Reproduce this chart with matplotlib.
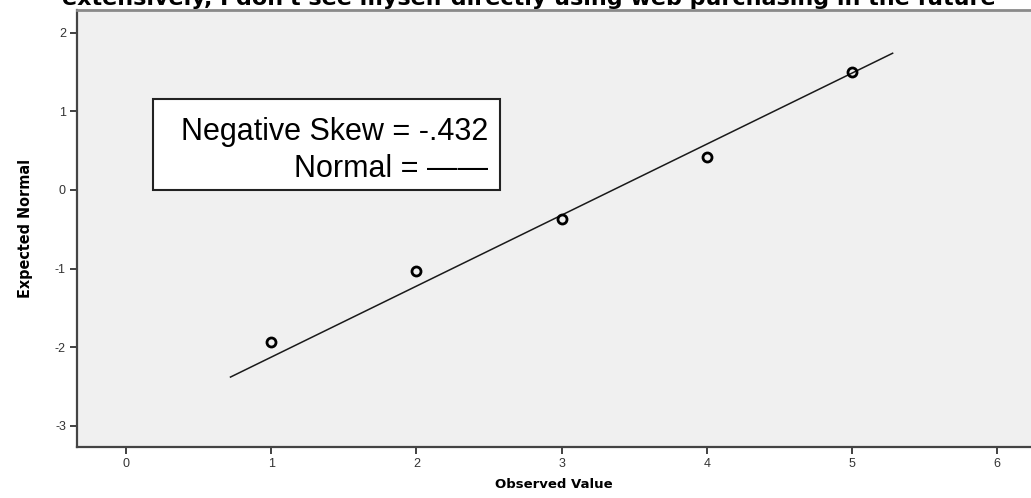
import matplotlib
matplotlib.use("Agg")
import matplotlib.pyplot as plt

# observed category values vs. expected normal scores
observed = [1, 2, 3, 4, 5]
expected = [-1.93, -1.03, -0.37, 0.42, 1.50]

# reference normal line (end points)
line_x = [0.72, 5.28]
line_y = [-2.38, 1.74]

x_ticks = [0, 1, 2, 3, 4, 5, 6]
y_ticks = [2, 1, 0, -1, -2, -3]

title = "extensively, I don't see myself directly using web purchasing in the future"

plt.rcParams['axes.unicode_minus'] = False

fig = plt.figure(figsize=(10.31, 4.98), dpi=100)
fig.patch.set_facecolor('white')
ax = fig.add_axes([0.0747, 0.1024, 0.9253, 0.8775])
ax.set_facecolor('#f0f0f0')

ax.plot(line_x, line_y, color='#1a1a1a', lw=1.1, zorder=2)
ax.plot(observed, expected, linestyle='none', marker='o', ms=6.5,
        mfc='none', mec='black', mew=2.0, zorder=3)

ax.set_xlim(-0.337, 6.233)
ax.set_ylim(-3.27, 2.29)
ax.set_xticks(x_ticks)
ax.set_yticks(y_ticks)

# spines
ax.spines['right'].set_visible(False)
ax.spines['top'].set_color('#8a8a8a')
ax.spines['top'].set_linewidth(2.0)
for s in ['left', 'bottom']:
    ax.spines[s].set_color('#444444')
    ax.spines[s].set_linewidth(1.6)

ax.tick_params(direction='out', length=5, width=1.3, color='#333333',
               labelsize=9, labelcolor='#333333', pad=3)
for lab in ax.get_xticklabels() + ax.get_yticklabels():
    lab.set_family(['Liberation Sans', 'DejaVu Sans'])

ax.set_xlabel("Observed Value", fontsize=9.5, fontweight='bold',
              family='DejaVu Sans', labelpad=6)
ax.set_ylabel("Expected Normal", fontsize=11.5, fontweight='bold',
              family='DejaVu Sans', fontstretch='condensed', labelpad=16)

# title runs off the top edge of the figure
fig.text(0.513, 1 - 5 / 498, title, ha='center', va='baseline',
         fontsize=16, fontweight='bold', family='DejaVu Sans')

# legend box with skew statistic
box_x0, box_y0 = 153 / 1031, 1 - 190 / 498
box_w, box_h = (500 - 153) / 1031, (190 - 99) / 498
fig.patches.append(matplotlib.patches.Rectangle(
    (box_x0, box_y0), box_w, box_h, transform=fig.transFigure,
    facecolor='white', edgecolor='#222222', lw=1.5, zorder=5))
fig.text(488 / 1031, 1 - 140 / 498, "Negative Skew = -.432", ha='right',
         va='baseline', fontsize=22, family='Liberation Sans', zorder=6)
fig.text(488 / 1031, 1 - 177 / 498, "Normal = \u2014\u2014", ha='right',
         va='baseline', fontsize=22, family='Liberation Sans', zorder=6)

fig.savefig("out.png", dpi=100)
